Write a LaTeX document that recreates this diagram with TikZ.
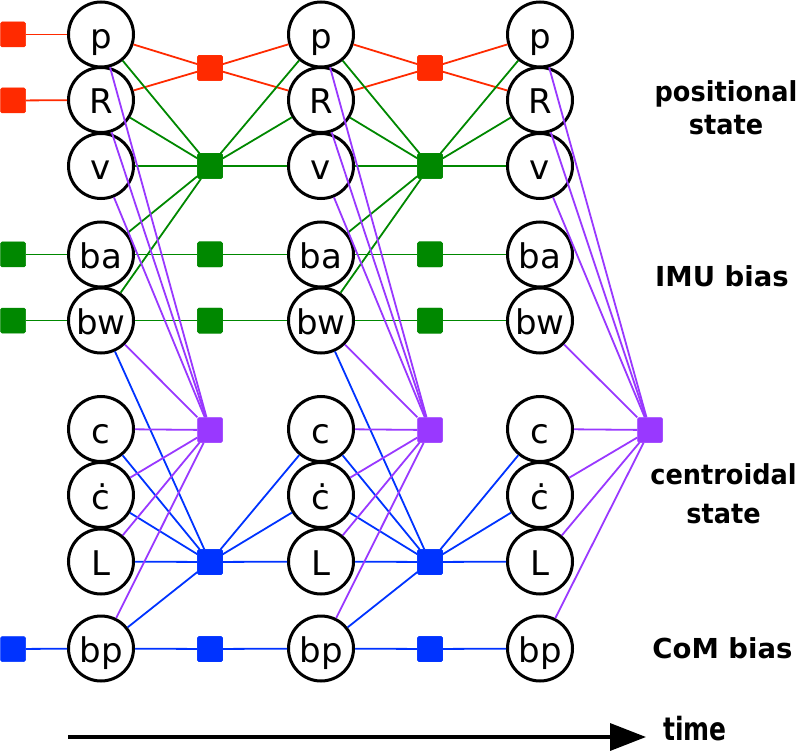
\documentclass[tikz,border=0pt]{standalone}
\usepackage{fontspec}
\setmainfont{DejaVu Sans}
\usetikzlibrary{arrows.meta}
\definecolor{fred}{RGB}{255,42,0}
\definecolor{fgreen}{RGB}{0,136,0}
\definecolor{fblue}{RGB}{0,51,255}
\definecolor{fpurple}{RGB}{153,56,255}
\newcommand{\narrow}[1]{\scalebox{0.93}[1]{#1}}

\begin{document}
\begin{tikzpicture}[x=1pt,y=-1pt,
  var/.style={circle, draw=black, line width=3pt, fill=white,
    minimum size=65pt, inner sep=0pt,
    font=\fontsize{34}{34}\selectfont, text height=28pt, text depth=0pt},
  fac/.style={rectangle, rounded corners=1.5pt, minimum size=25pt,
    inner sep=0pt, fill=#1, draw=#1, line width=0.5pt},
  link/.style={line width=1.8pt, draw=#1},
  lbl/.style={font=\fontsize{27.5}{33}\selectfont\bfseries, align=center,
    inner sep=0pt}
]
\useasboundingbox (0,0) rectangle (800,751);

% state variables, one column per time step
\foreach \k/\x in {1/101, 2/321, 3/540} {
  \node[var] (p\k)  at (\x,34.5)  {p};
  \node[var] (R\k)  at (\x,100)   {R};
  \node[var] (v\k)  at (\x,166)   {v};
  \node[var] (ba\k) at (\x,254.5) {ba};
  \node[var] (bw\k) at (\x,320.5) {bw};
  \node[var] (c\k)  at (\x,429)   {c};
  \node[var] (cd\k) at (\x,495)   {ċ};
  \node[var] (L\k)  at (\x,561.5) {L};
  \node[var] (bp\k) at (\x,648.5) {bp};
}

% prior factors
\node[fac=fred]   (pp)  at (13,34.5)  {};
\node[fac=fred]   (pR)  at (13,100.5) {};
\node[fac=fgreen] (pba) at (13,254.5) {};
\node[fac=fgreen] (pbw) at (13,320.5) {};
\node[fac=fblue]  (pbp) at (13,649)   {};

% factors between consecutive time steps
\foreach \k/\x in {1/210, 2/430} {
  \node[fac=fred]   (rf\k) at (\x,68)    {};
  \node[fac=fgreen] (gf\k) at (\x,166)   {};
  \node[fac=fgreen] (af\k) at (\x,254.5) {};
  \node[fac=fgreen] (wf\k) at (\x,320.5) {};
  \node[fac=fblue]  (bf\k) at (\x,562)   {};
  \node[fac=fblue]  (qf\k) at (\x,649)   {};
}
% per-step centroidal factors
\foreach \k/\x in {1/210, 2/430, 3/650} {
  \node[fac=fpurple] (uf\k) at (\x,430) {};
}

% prior links
\draw[link=fred]   (pp)  -- (p1);
\draw[link=fred]   (pR)  -- (R1);
\draw[link=fgreen] (pba) -- (ba1);
\draw[link=fgreen] (pbw) -- (bw1);
\draw[link=fblue]  (pbp) -- (bp1);

% links of the inter-step factors
\foreach \k/\n in {1/2, 2/3} {
  \foreach \s in {p,R} {
    \draw[link=fred] (\s\k) -- (rf\k);
    \draw[link=fred] (rf\k) -- (\s\n);
  }
  \foreach \s in {p,R,v,ba,bw} \draw[link=fgreen] (\s\k) -- (gf\k);
  \foreach \s in {p,R,v} \draw[link=fgreen] (gf\k) -- (\s\n);
  \draw[link=fgreen] (ba\k) -- (af\k) -- (ba\n);
  \draw[link=fgreen] (bw\k) -- (wf\k) -- (bw\n);
  \foreach \s in {bw,c,cd,L,bp} \draw[link=fblue] (\s\k) -- (bf\k);
  \foreach \s in {c,cd,L} \draw[link=fblue] (bf\k) -- (\s\n);
  \draw[link=fblue] (bp\k) -- (qf\k) -- (bp\n);
}

% links of the centroidal factors
\foreach \k in {1,2,3} {
  \foreach \s in {p,R,v,bw,c,cd,L,bp} \draw[link=fpurple] (\s\k) -- (uf\k);
}

% redraw factors on top of their links
\foreach \k/\x in {1/210, 2/430} {
  \node[fac=fred]   at (rf\k) {};
  \node[fac=fgreen] at (gf\k) {};
  \node[fac=fgreen] at (af\k) {};
  \node[fac=fgreen] at (wf\k) {};
  \node[fac=fblue]  at (bf\k) {};
  \node[fac=fblue]  at (qf\k) {};
}

% group labels
\node[lbl] (lpos) at (726,108) {\narrow{positional}\\\narrow{state}};
\node[lbl, anchor=base] (limu) at (722,287) {IMU bias};
\node[lbl] (lcen) at (723.5,494) {\narrow{centroidal}\\[6pt]\narrow{state}};
\node[lbl, anchor=base] (lcom) at (722.5,658) {CoM bias};

% time axis
\coordinate (t0) at (68,737);
\coordinate (t1) at (646,737);
\draw[line width=3.5pt, -{Triangle[length=36pt, width=27pt]}] (t0) -- (t1);
\node[font=\fontsize{32}{32}\selectfont\bfseries, inner sep=0pt] (ltime)
  at (695,729) {\scalebox{0.78}[1]{time}};
\end{tikzpicture}
\end{document}
